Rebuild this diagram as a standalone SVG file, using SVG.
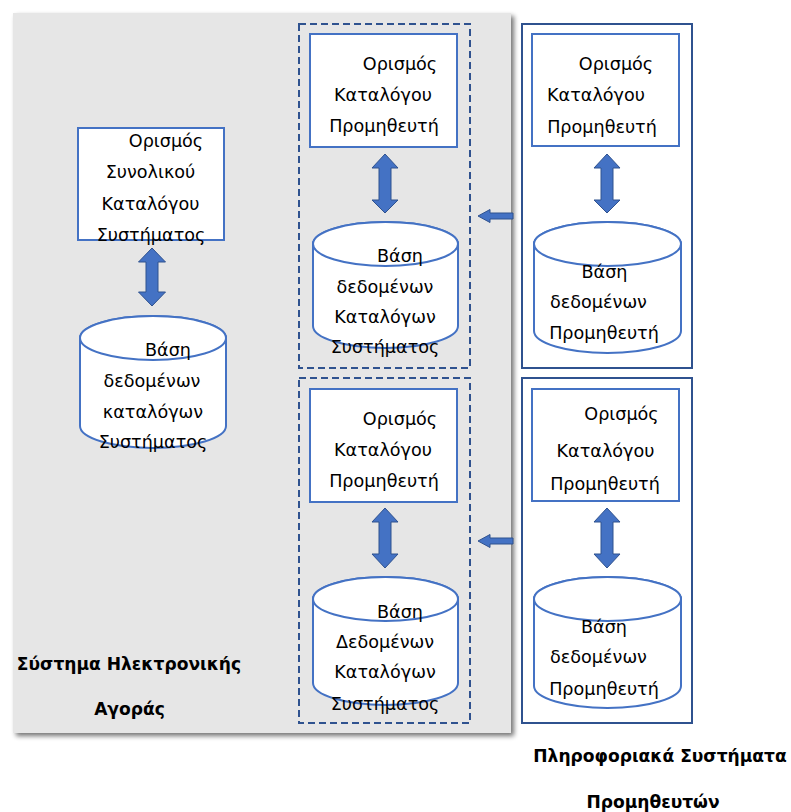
<svg xmlns="http://www.w3.org/2000/svg" width="791" height="812" viewBox="0 0 791 812">
<defs>
<filter id="sh" x="-5%" y="-5%" width="112%" height="112%">
<feGaussianBlur in="SourceAlpha" stdDeviation="2.5"/>
<feOffset dx="3" dy="3" result="b"/>
<feComponentTransfer><feFuncA type="linear" slope="0.55"/></feComponentTransfer>
<feMerge><feMergeNode/><feMergeNode in="SourceGraphic"/></feMerge>
</filter>
</defs>
<style>
.box{fill:#fff;stroke:#4472c4;stroke-width:2}
.cyl{fill:#fff;stroke:#4472c4;stroke-width:2}
.outer{fill:#fff;stroke:#2f528f;stroke-width:2}
.dash{fill:none;stroke:#2f528f;stroke-width:2;stroke-dasharray:7 4}
.arr{fill:#4472c4;stroke:#2f528f;stroke-width:1}
text{font-family:"DejaVu Sans","Liberation Sans",sans-serif;font-size:17.6px;fill:#000;text-anchor:middle}
.b{font-weight:bold;font-size:17.1px}
</style>
<rect id="panel" x="13" y="13" width="498" height="720" fill="#e6e6e6" filter="url(#sh)"/>
<g id="panel-label">
<text class="b" x="129" y="670">Σύστημα Ηλεκτρονικής</text>
<text class="b" x="129.5" y="715">Αγοράς</text>
</g>
<g id="outer-right-label">
<text class="b" x="660" y="762">Πληροφοριακά Συστήματα</text>
<text class="b" x="653" y="808">Προμηθευτών</text>
</g>
<g id="group-mid-top"><rect class="dash" x="299" y="24" width="171" height="344"/></g>
<g id="group-mid-bottom"><rect class="dash" x="299" y="378" width="171" height="345"/></g>
<g id="group-right-top"><rect class="outer" x="522" y="24" width="170" height="344"/></g>
<g id="group-right-bottom"><rect class="outer" x="522" y="378" width="170" height="345"/></g>

<g id="node-total-def">
<rect class="box" x="78" y="128" width="146" height="112"/>
<text x="166" y="147">Ορισμός</text>
<text x="150.5" y="178">Συνολικού</text>
<text x="150.5" y="210">Καταλόγου</text>
<text x="151" y="241">Συστήματος</text>
</g>
<g id="node-total-db">
<path class="cyl" d="M80,338 A73,22 0 0 1 226,338 L226,426 A73,22 0 0 1 80,426 Z"/>
<ellipse class="cyl" cx="153" cy="338" rx="73" ry="22"/>
<text x="168" y="356">Βάση</text>
<text x="152" y="387">δεδομένων</text>
<text x="153" y="418">καταλόγων</text>
<text x="153" y="448">Συστήματος</text>
</g>

<g id="node-mid-top-def">
<rect class="box" x="310" y="34" width="147" height="113"/>
<text x="400" y="70">Ορισμός</text>
<text x="383" y="101">Καταλόγου</text>
<text x="384" y="132">Προμηθευτή</text>
</g>
<g id="node-mid-top-db">
<path class="cyl" d="M313,244 A72.5,22 0 0 1 458,244 L458,326 A72.5,22 0 0 1 313,326 Z"/>
<ellipse class="cyl" cx="385.5" cy="244" rx="72.5" ry="22"/>
<text x="400" y="262">Βάση</text>
<text x="385" y="293">δεδομένων</text>
<text x="385" y="323">Καταλόγων</text>
<text x="385" y="353">Συστήματος</text>
</g>

<g id="node-mid-bottom-def">
<rect class="box" x="310" y="389" width="147" height="113"/>
<text x="400" y="425">Ορισμός</text>
<text x="383" y="456">Καταλόγου</text>
<text x="384" y="487">Προμηθευτή</text>
</g>
<g id="node-mid-bottom-db">
<path class="cyl" d="M313,599 A72.5,22 0 0 1 458,599 L458,683 A72.5,22 0 0 1 313,683 Z"/>
<ellipse class="cyl" cx="385.5" cy="599" rx="72.5" ry="22"/>
<text x="400" y="618">Βάση</text>
<text x="385" y="648">Δεδομένων</text>
<text x="385" y="678">Καταλόγων</text>
<text x="385" y="710">Συστήματος</text>
</g>

<g id="node-right-top-def">
<rect class="box" x="532" y="34" width="147" height="112"/>
<text x="616" y="70">Ορισμός</text>
<text x="596" y="101">Καταλόγου</text>
<text x="602" y="133">Προμηθευτή</text>
</g>
<g id="node-right-top-db">
<path class="cyl" d="M534,244 A73.5,22 0 0 1 681,244 L681,331 A73.5,22 0 0 1 534,331 Z"/>
<ellipse class="cyl" cx="607.5" cy="244" rx="73.5" ry="22"/>
<text x="604.5" y="278">Βάση</text>
<text x="598.5" y="308">δεδομένων</text>
<text x="604" y="339">Προμηθευτή</text>
</g>

<g id="node-right-bottom-def">
<rect class="box" x="532" y="389" width="147" height="112"/>
<text x="621.5" y="420">Ορισμός</text>
<text x="605.5" y="457">Καταλόγου</text>
<text x="605" y="490">Προμηθευτή</text>
</g>
<g id="node-right-bottom-db">
<path class="cyl" d="M534,599 A73.5,22 0 0 1 681,599 L681,686 A73.5,22 0 0 1 534,686 Z"/>
<ellipse class="cyl" cx="607.5" cy="599" rx="73.5" ry="22"/>
<text x="604" y="633">Βάση</text>
<text x="598.5" y="663">δεδομένων</text>
<text x="604" y="695">Προμηθευτή</text>
</g>

<g id="connectors">
<polygon class="arr" points="152,248 165.5,262 158,262 158,292 165.5,292 152,306 138.5,292 146,292 146,262 138.5,262"/>
<polygon class="arr" points="385,154 398,168 391,168 391,200 398,200 385,213 372,200 379,200 379,168 372,168"/>
<polygon class="arr" points="385,508 398,522 391,522 391,554 398,554 385,568 372,554 379,554 379,522 372,522"/>
<polygon class="arr" points="607,154 620,168 613,168 613,200 620,200 607,213 594,200 601,200 601,168 594,168"/>
<polygon class="arr" points="607,508 620,522 613,522 613,554 620,554 607,568 594,554 601,554 601,522 594,522"/>
<polygon class="arr" points="478,216 490,209.5 490,213 513,213 513,219 490,219 490,222.5"/>
<polygon class="arr" points="478,541 490,534.5 490,538 513,538 513,544 490,544 490,547.5"/>
</g>
</svg>
